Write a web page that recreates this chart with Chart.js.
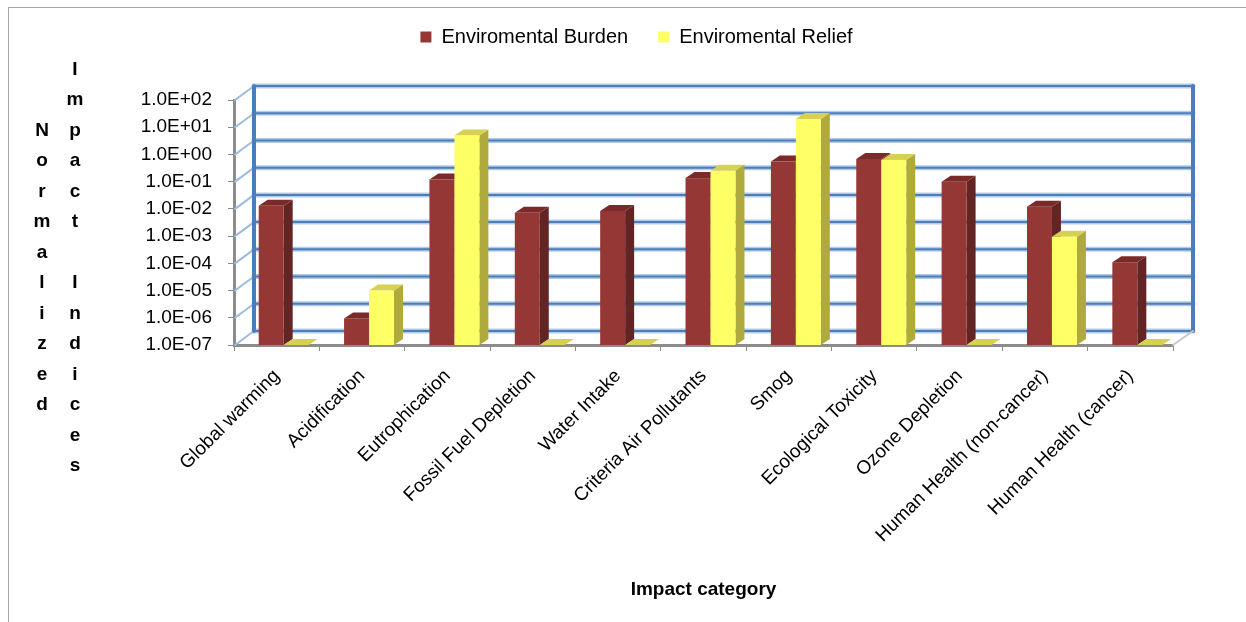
<!DOCTYPE html>
<html>
<head>
<meta charset="utf-8">
<script src="https://cdn.jsdelivr.net/npm/chart.js@4.4.0/dist/chart.umd.min.js"></script>
<style>
  html, body { margin: 0; padding: 0; background: #fff; overflow: hidden; }
  #wrap { position: relative; width: 1246px; height: 622px; overflow: hidden; }
  #frame { position: absolute; left: 8px; top: 7px; width: 1300px; height: 700px;
           border: 1px solid #a6a6a6; box-sizing: border-box; }
  canvas { position: absolute; left: 0; top: 0; }
</style>
</head>
<body>
<div id="wrap">
  <div id="frame"></div>
  <canvas id="chart" width="1246" height="622"></canvas>
</div>
<script>
const categories = [
  "Global warming", "Acidification", "Eutrophication", "Fossil Fuel Depletion",
  "Water Intake", "Criteria Air Pollutants", "Smog", "Ecological Toxicity",
  "Ozone Depletion", "Human Health (non-cancer)", "Human Health (cancer)"
];
// 0 = nothing above the floor of the log axis
const burdenValues = [1.3e-2, 9.5e-7, 1.2e-1, 7.2e-3, 8.4e-3, 1.35e-1, 5.5e-1, 6.8e-1, 1.0e-1, 1.2e-2, 1.1e-4];
const reliefValues = [0, 1.0e-5, 5.0, 0, 0, 2.5e-1, 20, 6.3e-1, 0, 9.5e-4, 0];

const yTickValues = [1e-7, 1e-6, 1e-5, 1e-4, 1e-3, 1e-2, 1e-1, 1e0, 1e1, 1e2];
const yTickLabels = ["1.0E-07", "1.0E-06", "1.0E-05", "1.0E-04", "1.0E-03",
                     "1.0E-02", "1.0E-01", "1.0E+00", "1.0E+01", "1.0E+02"];
const yTitleColumns = ["Normalized", "Impact Indices"];

const Y_MIN = 1e-7;
const FONT = "'Liberation Sans', Arial, sans-serif";

// 3d look
const WALL_DX = 20, WALL_DY = 14;
const BAR_DX = 9, BAR_DY = 6, BAR_SHIFT = 7;
const faces = [
  { front: "#953735", side: "#632523", top: "#7a2b29" },
  { front: "#ffff66", side: "#b0aa3e", top: "#d6d150" }
];

Chart.defaults.font.family = FONT;
Chart.defaults.color = "#000";

function line(ctx, x1, y1, x2, y2) {
  ctx.beginPath(); ctx.moveTo(x1, y1); ctx.lineTo(x2, y2); ctx.stroke();
}
function poly(ctx, pts, color) {
  ctx.beginPath();
  ctx.moveTo(pts[0][0], pts[0][1]);
  for (let i = 1; i < pts.length; i++) ctx.lineTo(pts[i][0], pts[i][1]);
  ctx.closePath();
  ctx.fillStyle = color;
  ctx.fill();
}

// make the legend band reach down to the top of the plot
const legendBand = {
  id: "legendBand",
  beforeLayout(chart) {
    const lg = chart.legend;
    if (lg && !lg._patched) {
      const fit = lg.fit;
      lg.fit = function () { fit.call(this); this.height = 103; };
      lg._patched = true;
    }
  }
};

const walls = {
  id: "walls",
  beforeDatasetsDraw(chart) {
    const { ctx, chartArea: a, scales: { y } } = chart;
    ctx.save();
    ctx.lineCap = "round";
    yTickValues.forEach(v => {
      const py = y.getPixelForValue(v);
      ctx.strokeStyle = "#9dbbe0"; ctx.lineWidth = 2;
      line(ctx, a.left + 1, py, a.left + WALL_DX, py - WALL_DY);
      ctx.strokeStyle = "#b4cbe6"; ctx.lineWidth = 5;
      line(ctx, a.left + WALL_DX, py - WALL_DY, a.right + WALL_DX, py - WALL_DY);
      ctx.strokeStyle = "#4a7ebb"; ctx.lineWidth = 2;
      line(ctx, a.left + WALL_DX, py - WALL_DY, a.right + WALL_DX, py - WALL_DY);
    });
    ctx.strokeStyle = "#4a7ebb"; ctx.lineWidth = 4;
    line(ctx, a.left + WALL_DX, a.top - WALL_DY, a.left + WALL_DX, a.bottom - WALL_DY);
    line(ctx, a.right + WALL_DX, a.top - WALL_DY, a.right + WALL_DX, a.bottom - WALL_DY);
    ctx.strokeStyle = "#c8c8c8"; ctx.lineWidth = 2;
    line(ctx, a.right, a.bottom, a.right + WALL_DX, a.bottom - WALL_DY);
    ctx.restore();
  }
};

const bars3d = {
  id: "bars3d",
  beforeDatasetDraw() { return false; },
  afterDatasetsDraw(chart) {
    const ctx = chart.ctx;
    const metas = chart.data.datasets.map((_, i) => chart.getDatasetMeta(i));
    ctx.save();
    categories.forEach((_, idx) => {
      metas.forEach((meta, di) => {
        const bar = meta.data[idx];
        if (!bar) return;
        const { x, y, base, width } = bar.getProps(["x", "y", "base", "width"], true);
        const c = faces[di];
        const l = x - width / 2 + BAR_SHIFT, r = x + width / 2 + BAR_SHIFT;
        poly(ctx, [[r, y], [r + BAR_DX, y - BAR_DY], [r + BAR_DX, base - BAR_DY], [r, base]], c.side);
        poly(ctx, [[l, y], [l + BAR_DX, y - BAR_DY], [r + BAR_DX, y - BAR_DY], [r, y]], c.top);
        if (base - y > 0) {
          ctx.fillStyle = c.front;
          ctx.fillRect(l, y, r - l, base - y);
        }
      });
    });
    ctx.restore();
  }
};

const stackedTitle = {
  id: "stackedTitle",
  afterDraw(chart) {
    const ctx = chart.ctx;
    const colX = [42, 75];
    const gap = 30.5, mid = 268;
    ctx.save();
    ctx.font = "bold 19px " + FONT;
    ctx.fillStyle = "#000";
    ctx.textAlign = "center";
    ctx.textBaseline = "middle";
    yTitleColumns.forEach((word, ci) => {
      const chars = [...word];
      const start = mid - (chars.length - 1) * gap / 2;
      chars.forEach((ch, k) => ctx.fillText(ch, colX[ci], start + k * gap));
    });
    ctx.restore();
  }
};

const ctx = document.getElementById("chart");

new Chart(ctx, {
  type: "bar",
  data: {
    labels: categories,
    datasets: [
      {
        label: "Enviromental Burden",
        data: burdenValues.map(v => v || Y_MIN),
        backgroundColor: faces[0].front,
        borderWidth: 0
      },
      {
        label: "Enviromental Relief",
        data: reliefValues.map(v => v || Y_MIN),
        backgroundColor: faces[1].front,
        borderWidth: 0
      }
    ]
  },
  options: {
    responsive: false,
    animation: false,
    devicePixelRatio: 1,
    layout: { padding: { top: -3, left: 100, right: 73, bottom: 21 } },
    datasets: { bar: { categoryPercentage: 0.585, barPercentage: 1 } },
    scales: {
      x: {
        grid: { offset: true, drawOnChartArea: false, drawTicks: true, tickLength: 6, color: "#8c8c8c" },
        border: { color: "#8c8c8c", width: 3 },
        ticks: {
          autoSkip: false, minRotation: 45, maxRotation: 45, padding: 14,
          font: { size: 19 }, color: "#000"
        },
        title: {
          display: true, text: "Impact category",
          font: { size: 19, weight: "bold" }, padding: { top: 0, bottom: 0 }
        },
        afterFit(scale) { scale.height = 256; }
      },
      y: {
        type: "logarithmic",
        min: Y_MIN,
        max: 1e2,
        grid: { drawOnChartArea: false, drawTicks: true, tickLength: 6, color: "#8c8c8c" },
        border: { color: "#8c8c8c", width: 3 },
        afterBuildTicks(scale) {
          scale.ticks = yTickValues.map(v => ({ value: v, major: false }));
        },
        ticks: {
          padding: 16,
          font: { size: 19 }, color: "#000",
          callback: (value, index) => yTickLabels[index]
        },
        afterFit(scale) { scale.width = 134; }
      }
    },
    plugins: {
      legend: {
        position: "top",
        labels: { boxWidth: 11, boxHeight: 11, padding: 30, font: { size: 20 }, color: "#000" }
      },
      tooltip: { enabled: false }
    }
  },
  plugins: [legendBand, walls, bars3d, stackedTitle]
});
</script>
</body>
</html>
